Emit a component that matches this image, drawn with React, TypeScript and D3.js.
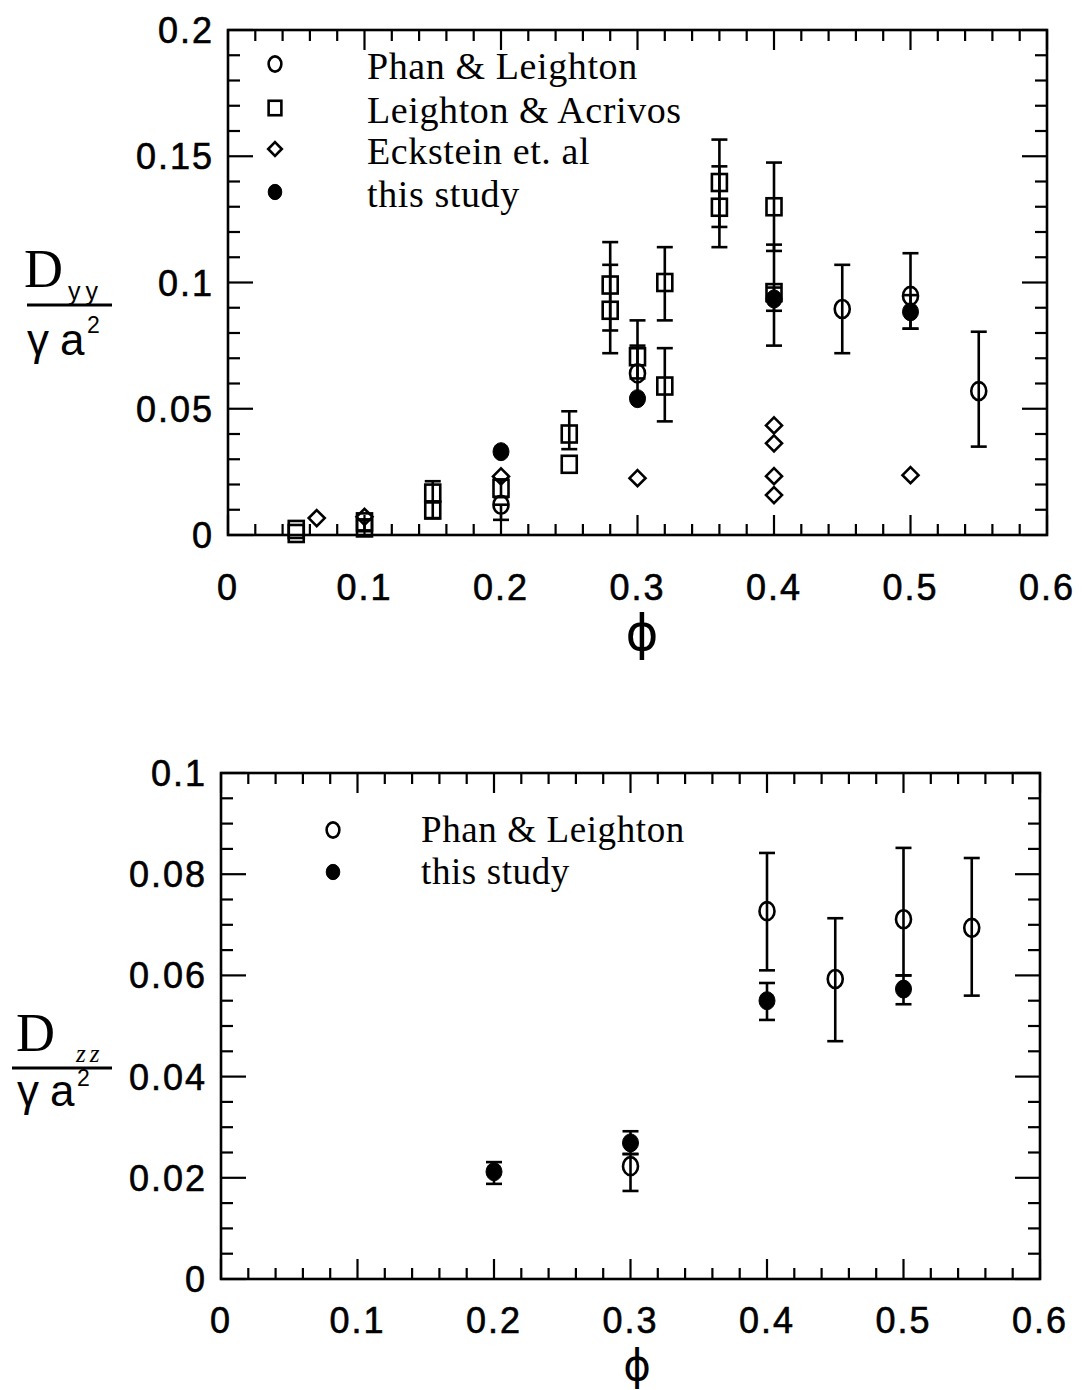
import React from 'react';
import * as d3 from 'd3';

// ---------- tick values / labels ----------
const xTicks = [0, 0.1, 0.2, 0.3, 0.4, 0.5, 0.6];
const xTickLabels = ['0', '0.1', '0.2', '0.3', '0.4', '0.5', '0.6'];
const topYTicks = [0, 0.05, 0.1, 0.15, 0.2];
const topYTickLabels = ['0', '0.05', '0.1', '0.15', '0.2'];
const bottomYTicks = [0, 0.02, 0.04, 0.06, 0.08, 0.1];
const bottomYTickLabels = ['0', '0.02', '0.04', '0.06', '0.08', '0.1'];

// ---------- top panel (Dyy) : [phi, value, errLow, errHigh] ----------
const topPhan: number[][] = [
  [0.2, 0.012, 0.006, 0.012],
  [0.3, 0.064, 0.0545, 0.075],
  [0.45, 0.0895, 0.072, 0.107],
  [0.5, 0.0947, 0.0817, 0.1116],
  [0.55, 0.057, 0.035, 0.0805],
];
const topLeightonAcrivos: number[][] = [
  [0.05, 0.0006, NaN, NaN],
  [0.05, 0.0022, NaN, NaN],
  [0.1, 0.0028, 0.0015, 0.006],
  [0.1, 0.0052, NaN, NaN],
  [0.15, 0.0166, 0.013, 0.0213],
  [0.15, 0.0099, 0.0067, 0.013],
  [0.2, 0.0185, 0.015, 0.022],
  [0.25, 0.04, 0.034, 0.049],
  [0.25, 0.028, NaN, NaN],
  [0.28, 0.099, 0.081, 0.116],
  [0.28, 0.089, 0.072, 0.107],
  [0.3, 0.0706, 0.062, 0.085],
  [0.32, 0.1, 0.085, 0.114],
  [0.32, 0.059, 0.045, 0.074],
  [0.36, 0.1396, 0.122, 0.1566],
  [0.36, 0.1298, 0.114, 0.146],
  [0.4, 0.13, 0.1125, 0.1475],
  [0.4, 0.096, 0.075, 0.115],
];
const topEckstein: number[][] = [
  [0.065, 0.0067],
  [0.1, 0.0072],
  [0.2, 0.0232],
  [0.3, 0.0225],
  [0.4, 0.0434],
  [0.4, 0.0363],
  [0.4, 0.0233],
  [0.4, 0.0158],
  [0.5, 0.0237],
];
const topStudy: number[][] = [
  [0.2, 0.033, NaN, NaN],
  [0.3, 0.054, NaN, NaN],
  [0.4, 0.0935, 0.0888, 0.098],
  [0.5, 0.0884, 0.0817, 0.095],
];

// ---------- bottom panel (Dzz) ----------
const bottomPhan: number[][] = [
  [0.3, 0.0223, 0.0174, 0.0247],
  [0.4, 0.0727, 0.061, 0.0842],
  [0.45, 0.0593, 0.047, 0.0713],
  [0.5, 0.0711, 0.06, 0.0852],
  [0.55, 0.0694, 0.056, 0.0832],
];
const bottomStudy: number[][] = [
  [0.2, 0.0212, 0.0188, 0.0231],
  [0.3, 0.0269, 0.0247, 0.0292],
  [0.4, 0.055, 0.0512, 0.0585],
  [0.5, 0.0573, 0.0543, 0.06],
];

const topLegend = ['Phan & Leighton', 'Leighton & Acrivos', 'Eckstein et. al', 'this study'];
const bottomLegend = ['Phan & Leighton', 'this study'];

const SANS = '"Liberation Sans", Arial, Helvetica, sans-serif';
const SERIF = '"Liberation Serif", "Times New Roman", serif';
const SW = 2.6;

type Sc = d3.ScaleLinear<number, number>;

function Marker({ kind, x, y, s = 1 }: { kind: string; x: number; y: number; s?: number }) {
  if (kind === 'circle')
    return <ellipse cx={x} cy={y} rx={7.5 * s} ry={9 * s} fill="none" stroke="#000" strokeWidth={SW} />;
  if (kind === 'filled')
    return <ellipse cx={x} cy={y} rx={8 * s} ry={9 * s} fill="#000" stroke="#000" strokeWidth={1} />;
  if (kind === 'square')
    return <rect x={x - 7.5 * s} y={y - 8.5 * s} width={15 * s} height={17 * s} fill="none" stroke="#000" strokeWidth={SW} />;
  const h = 8 * s;
  return <path d={`M${x},${y - h}L${x + h},${y}L${x},${y + h}L${x - h},${y}Z`} fill="none" stroke="#000" strokeWidth={SW} />;
}

function ErrorBars({ data, xs, ys }: { data: number[][]; xs: Sc; ys: Sc }) {
  return (
    <g stroke="#000" strokeWidth={SW}>
      {data.map((d, i) => {
        if (isNaN(d[2])) return null;
        const x = xs(d[0]);
        const y1 = ys(d[2]);
        const y2 = ys(d[3]);
        return (
          <g key={i}>
            <line x1={x} x2={x} y1={y1} y2={y2} />
            <line x1={x - 8} x2={x + 8} y1={y1} y2={y1} />
            <line x1={x - 8} x2={x + 8} y1={y2} y2={y2} />
          </g>
        );
      })}
    </g>
  );
}

function Frame({ xs, ys, yMinor, yMajor, yTicks, yLabels, labelOffset }: {
  xs: Sc; ys: Sc; yMinor: number; yMajor: number; yTicks: number[]; yLabels: string[]; labelOffset: number;
}) {
  const [x0, x1] = xs.range();
  const [y0, y1] = ys.range();
  const xMinor = d3.range(0, 0.6001, 0.02);
  const yMax = ys.domain()[1];
  const yMinorVals = d3.range(0, yMax + 1e-9, yMinor);
  const isMajor = (v: number, step: number) => Math.abs(v / step - Math.round(v / step)) < 1e-6;
  return (
    <g>
      <rect x={x0} y={y1} width={x1 - x0} height={y0 - y1} fill="none" stroke="#000" strokeWidth={2.6} />
      <g stroke="#000" strokeWidth={2.2}>
        {xMinor.map((v, i) => {
          const L = isMajor(v, 0.1) ? 20 : 11;
          const x = xs(v);
          return (
            <g key={i}>
              <line x1={x} x2={x} y1={y0} y2={y0 - L} />
              <line x1={x} x2={x} y1={y1} y2={y1 + L} />
            </g>
          );
        })}
        {yMinorVals.map((v, i) => {
          const L = isMajor(v, yMajor) ? 25 : 12;
          const y = ys(v);
          return (
            <g key={i}>
              <line x1={x0} x2={x0 + L} y1={y} y2={y} />
              <line x1={x1} x2={x1 - L} y1={y} y2={y} />
            </g>
          );
        })}
      </g>
      <g fontFamily={SANS} fontSize={36} fill="#000" stroke="#000" strokeWidth={0.6} letterSpacing={2}>
        {xTicks.map((v, i) => (
          <text key={i} x={xs(v)} y={y0 + labelOffset} textAnchor="middle">{xTickLabels[i]}</text>
        ))}
        {yTicks.map((v, i) => (
          <text key={i} x={x0 - 14} y={ys(v) + 13} textAnchor="end">{yLabels[i]}</text>
        ))}
      </g>
    </g>
  );
}

export default function App() {
  const xsTop = d3.scaleLinear().domain([0, 0.6]).range([228, 1047]);
  const ysTop = d3.scaleLinear().domain([0, 0.2]).range([535, 30]);
  const xsBot = d3.scaleLinear().domain([0, 0.6]).range([221, 1040]);
  const ysBot = d3.scaleLinear().domain([0, 0.1]).range([1279, 773]);

  const topKinds = ['circle', 'square', 'diamond', 'filled'];
  const botKinds = ['circle', 'filled'];

  return (
    <svg width={1082} height={1390} style={{ position: 'absolute', left: 0, top: 0, background: '#fff' }}>
      <rect width={1082} height={1390} fill="#fff" />

      {/* ===== top panel ===== */}
      <Frame xs={xsTop} ys={ysTop} yMinor={0.01} yMajor={0.05} yTicks={topYTicks} yLabels={topYTickLabels} labelOffset={65} />
      <ErrorBars data={topLeightonAcrivos} xs={xsTop} ys={ysTop} />
      <ErrorBars data={topPhan} xs={xsTop} ys={ysTop} />
      <ErrorBars data={topStudy} xs={xsTop} ys={ysTop} />
      {topLeightonAcrivos.map((d, i) => <Marker key={'la' + i} kind="square" x={xsTop(d[0])} y={ysTop(d[1])} />)}
      {topEckstein.map((d, i) => <Marker key={'ek' + i} kind="diamond" x={xsTop(d[0])} y={ysTop(d[1])} />)}
      {topPhan.map((d, i) => <Marker key={'ph' + i} kind="circle" x={xsTop(d[0])} y={ysTop(d[1])} />)}
      {topStudy.map((d, i) => <Marker key={'st' + i} kind="filled" x={xsTop(d[0])} y={ysTop(d[1])} />)}

      <g>
        {topLegend.map((t, i) => {
          const cy = [64, 108, 149, 192][i];
          return (
            <g key={i}>
              <Marker kind={topKinds[i]} x={275} y={cy} s={0.85} />
              <text x={367} y={cy + 15} fontFamily={SERIF} fontSize={38} letterSpacing={0.6}>{t}</text>
            </g>
          );
        })}
      </g>

      <g>
        <text x={24} y={287} fontFamily={SERIF} fontSize={54}>D</text>
        <text x={68} y={300} fontFamily={SANS} fontSize={25} letterSpacing={5}>yy</text>
        <line x1={27} x2={112} y1={305} y2={305} stroke="#000" strokeWidth={3} />
        <text x={27} y={355} fontFamily={SANS} fontSize={44}>γ</text>
        <text x={60} y={355} fontFamily={SANS} fontSize={44}>a</text>
        <text x={87} y={333} fontFamily={SANS} fontSize={23}>2</text>
      </g>
      <text x={642} y={650} textAnchor="middle" fontFamily='"DejaVu Sans", sans-serif' fontSize={50}>ϕ</text>

      {/* ===== bottom panel ===== */}
      <Frame xs={xsBot} ys={ysBot} yMinor={0.005} yMajor={0.02} yTicks={bottomYTicks} yLabels={bottomYTickLabels} labelOffset={54} />
      <ErrorBars data={bottomPhan} xs={xsBot} ys={ysBot} />
      <ErrorBars data={bottomStudy} xs={xsBot} ys={ysBot} />
      {bottomPhan.map((d, i) => <Marker key={'bp' + i} kind="circle" x={xsBot(d[0])} y={ysBot(d[1])} />)}
      {bottomStudy.map((d, i) => <Marker key={'bs' + i} kind="filled" x={xsBot(d[0])} y={ysBot(d[1])} />)}

      <g>
        {bottomLegend.map((t, i) => {
          const cy = [830, 872][i];
          return (
            <g key={i}>
              <Marker kind={botKinds[i]} x={333} y={cy} s={0.85} />
              <text x={421} y={cy + 12} fontFamily={SERIF} fontSize={37} letterSpacing={0.6}>{t}</text>
            </g>
          );
        })}
      </g>

      <g>
        <text x={16} y={1051} fontFamily={SERIF} fontSize={54}>D</text>
        <text x={76} y={1062} fontFamily={SERIF} fontSize={25} fontStyle="italic" letterSpacing={4}>zz</text>
        <line x1={12} x2={112} y1={1068} y2={1068} stroke="#000" strokeWidth={3} />
        <text x={17} y={1106} fontFamily={SANS} fontSize={44}>γ</text>
        <text x={50} y={1106} fontFamily={SANS} fontSize={44}>a</text>
        <text x={77} y={1086} fontFamily={SANS} fontSize={23}>2</text>
      </g>
      <text x={637} y={1380} textAnchor="middle" fontFamily='"DejaVu Sans", sans-serif' fontSize={42}>ϕ</text>
    </svg>
  );
}
